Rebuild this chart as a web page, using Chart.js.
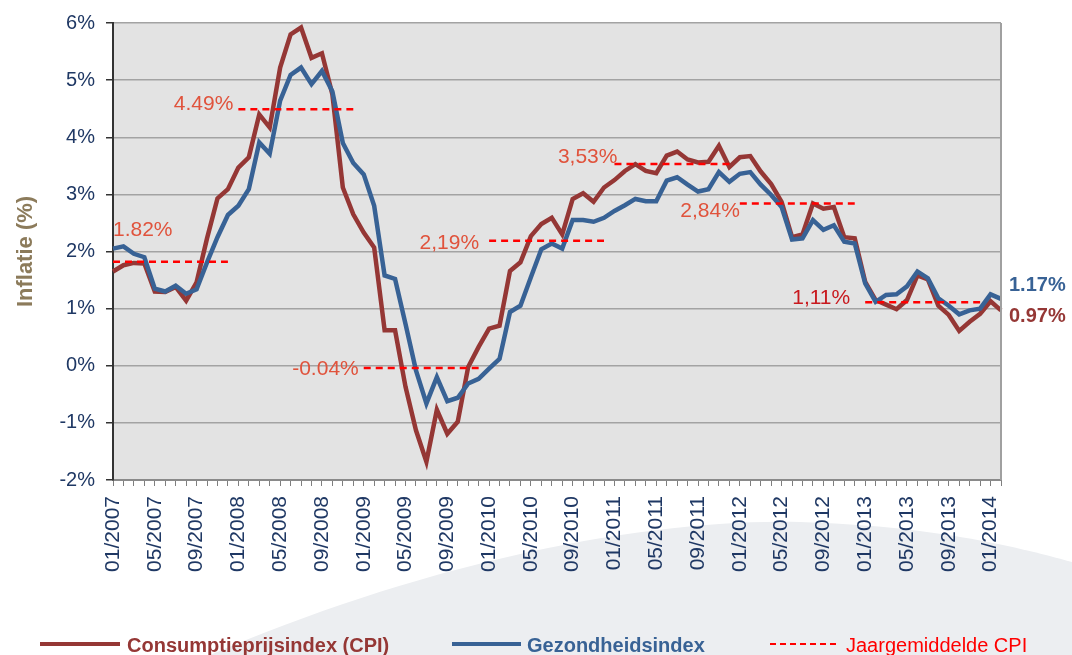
<!DOCTYPE html>
<html>
<head>
<meta charset="utf-8">
<script src="https://cdn.jsdelivr.net/npm/chart.js@4/dist/chart.umd.min.js"></script>
<style>
  html, body { margin: 0; padding: 0; background: #ffffff; }
  #wrap { width: 1072px; height: 655px; }
</style>
</head>
<body>
<div id="wrap"><canvas id="c" width="1072" height="655"></canvas></div>
<script>
// ---------------- DATA ----------------
const months = [
  '01/2007','02/2007','03/2007','04/2007','05/2007','06/2007','07/2007','08/2007','09/2007','10/2007','11/2007','12/2007',
  '01/2008','02/2008','03/2008','04/2008','05/2008','06/2008','07/2008','08/2008','09/2008','10/2008','11/2008','12/2008',
  '01/2009','02/2009','03/2009','04/2009','05/2009','06/2009','07/2009','08/2009','09/2009','10/2009','11/2009','12/2009',
  '01/2010','02/2010','03/2010','04/2010','05/2010','06/2010','07/2010','08/2010','09/2010','10/2010','11/2010','12/2010',
  '01/2011','02/2011','03/2011','04/2011','05/2011','06/2011','07/2011','08/2011','09/2011','10/2011','11/2011','12/2011',
  '01/2012','02/2012','03/2012','04/2012','05/2012','06/2012','07/2012','08/2012','09/2012','10/2012','11/2012','12/2012',
  '01/2013','02/2013','03/2013','04/2013','05/2013','06/2013','07/2013','08/2013','09/2013','10/2013','11/2013','12/2013',
  '01/2014','02/2014'
];

const cpi = [
  1.65, 1.76, 1.80, 1.79, 1.30, 1.29, 1.38, 1.14, 1.46, 2.23, 2.93, 3.09,
  3.47, 3.65, 4.40, 4.17, 5.22, 5.80, 5.92, 5.39, 5.47, 4.75, 3.12, 2.65,
  2.33, 2.07, 0.62, 0.62, -0.37, -1.13, -1.68, -0.77, -1.19, -0.98, -0.02, 0.33,
  0.65, 0.70, 1.66, 1.81, 2.27, 2.48, 2.59, 2.30, 2.92, 3.02, 2.87, 3.12,
  3.25, 3.41, 3.53, 3.41, 3.37, 3.68, 3.75, 3.61, 3.56, 3.57, 3.85, 3.48,
  3.65, 3.67, 3.40, 3.18, 2.87, 2.25, 2.30, 2.84, 2.75, 2.78, 2.25, 2.23,
  1.47, 1.15, 1.07, 0.99, 1.15, 1.58, 1.51, 1.05, 0.89, 0.61, 0.77, 0.91,
  1.13, 0.97
];

const health = [
  2.05, 2.09, 1.96, 1.90, 1.35, 1.30, 1.40, 1.26, 1.34, 1.81, 2.25, 2.64,
  2.80, 3.09, 3.91, 3.71, 4.64, 5.09, 5.22, 4.93, 5.16, 4.80, 3.90, 3.55,
  3.35, 2.80, 1.58, 1.52, 0.73, -0.08, -0.66, -0.20, -0.62, -0.56, -0.31, -0.23,
  -0.05, 0.12, 0.94, 1.05, 1.55, 2.04, 2.14, 2.05, 2.55, 2.55, 2.52, 2.59,
  2.71, 2.81, 2.92, 2.88, 2.88, 3.24, 3.30, 3.17, 3.05, 3.09, 3.39, 3.22,
  3.36, 3.39, 3.17, 2.99, 2.78, 2.21, 2.23, 2.55, 2.38, 2.46, 2.17, 2.14,
  1.44, 1.12, 1.24, 1.25, 1.39, 1.65, 1.53, 1.18, 1.05, 0.90, 0.97, 1.00,
  1.25, 1.17
];

const yearAvg = [1.82, 4.49, -0.04, 2.19, 3.53, 2.84, 1.11];
const yearAvgLabels = ['1.82%', '4.49%', '-0.04%', '2,19%', '3,53%', '2,84%', '1,11%'];
const endLabels = ['0.97%', '1.17%'];
const seriesNames = ['Consumptieprijsindex (CPI)', 'Gezondheidsindex', 'Jaargemiddelde CPI'];
const yTicks = [-2, -1, 0, 1, 2, 3, 4, 5, 6];

// ---------------- STYLE ----------------
const FONT = "'Liberation Sans', Arial, sans-serif";
const RED = '#953735';
const BLUE = '#386295';
const DASH = '#ff0000';
const NAVY = '#1f3864';

// year average datasets (one per year, built from yearAvg)
const avgSets = yearAvg.map((v, y) => ({
  label: 'avg' + y,
  data: months.map((m, i) => (Math.floor(i / 12) === y && i < 84) ? v : null),
  borderColor: DASH,
  borderWidth: 2.5,
  borderDash: [7, 5],
  pointRadius: 0,
  spanGaps: false,
  order: 0
}));

const decor = {
  id: 'decor',
  beforeDraw(chart) {
    const { ctx, chartArea: a } = chart;
    ctx.save();
    ctx.fillStyle = '#ffffff';
    ctx.fillRect(0, 0, chart.width, chart.height);
    ctx.fillStyle = '#eceef1';
    ctx.beginPath();
    ctx.moveTo(210, 655);
    ctx.bezierCurveTo(420, 565, 640, 518, 800, 522);
    ctx.bezierCurveTo(930, 526, 1010, 545, 1072, 562);
    ctx.lineTo(1072, 655);
    ctx.closePath();
    ctx.fill();
    ctx.fillStyle = '#e3e3e3';
    ctx.fillRect(a.left, a.top, a.right - a.left, a.bottom - a.top);
    ctx.restore();
  },
  afterDraw(chart) {
    const { ctx, chartArea: a } = chart;
    const xs = chart.scales.x, ys = chart.scales.y;
    ctx.save();
    // right border
    ctx.strokeStyle = '#a0a0a0';
    ctx.lineWidth = 2;
    ctx.beginPath();
    ctx.moveTo(a.right, a.top);
    ctx.lineTo(a.right, a.bottom);
    ctx.stroke();

    // year-average labels
    const place = [
      { idx: 0,  align: 'left',  dx: 0,   dy: -32, color: '#e0533c' },
      { idx: 12, align: 'right', dx: -5,  dy: -5,  color: '#e0533c' },
      { idx: 24, align: 'right', dx: -5,  dy: 1,   color: '#e0533c' },
      { idx: 36, align: 'right', dx: -10, dy: 3,   color: '#e0533c' },
      { idx: 48, align: 'right', dx: 3,   dy: -7,  color: '#e0533c' },
      { idx: 60, align: 'right', dx: 0,   dy: 8,   color: '#e0533c' },
      { idx: 72, align: 'right', dx: -15, dy: -4,  color: '#c8191e' }
    ];
    ctx.font = '21px ' + FONT;
    ctx.textBaseline = 'middle';
    yearAvg.forEach((v, k) => {
      const p = place[k];
      ctx.fillStyle = p.color;
      ctx.textAlign = p.align;
      ctx.fillText(yearAvgLabels[k], xs.getPixelForValue(p.idx) + p.dx, ys.getPixelForValue(v) + p.dy);
    });

    // end labels
    const last = months.length - 1;
    ctx.font = 'bold 20px ' + FONT;
    ctx.textAlign = 'left';
    ctx.fillStyle = BLUE;
    ctx.fillText(endLabels[1], a.right + 8, ys.getPixelForValue(health[last]) - 13);
    ctx.fillStyle = RED;
    ctx.fillText(endLabels[0], a.right + 8, ys.getPixelForValue(cpi[last]) + 6);

    // legend
    const ly = 644, by = 652;
    ctx.lineWidth = 4;
    ctx.strokeStyle = RED;
    ctx.beginPath(); ctx.moveTo(40, ly); ctx.lineTo(120, ly); ctx.stroke();
    ctx.strokeStyle = BLUE;
    ctx.beginPath(); ctx.moveTo(452, ly); ctx.lineTo(521, ly); ctx.stroke();
    ctx.lineWidth = 2;
    ctx.strokeStyle = DASH;
    ctx.setLineDash([6, 4]);
    ctx.beginPath(); ctx.moveTo(770, ly); ctx.lineTo(838, ly); ctx.stroke();
    ctx.setLineDash([]);
    ctx.textBaseline = 'alphabetic';
    ctx.font = 'bold 20px ' + FONT;
    ctx.fillStyle = RED;
    ctx.fillText(seriesNames[0], 127, by);
    ctx.fillStyle = BLUE;
    ctx.fillText(seriesNames[1], 527, by);
    ctx.font = '20px ' + FONT;
    ctx.fillStyle = DASH;
    ctx.fillText(seriesNames[2], 846, by);
    ctx.restore();
  }
};

new Chart(document.getElementById('c'), {
  type: 'line',
  data: {
    labels: months,
    datasets: [
      ...avgSets,
      { label: seriesNames[1], data: health, borderColor: BLUE, borderWidth: 4.5, pointRadius: 0, tension: 0, order: 1 },
      { label: seriesNames[0], data: cpi, borderColor: RED, borderWidth: 4.5, pointRadius: 0, tension: 0, order: 2 }
    ]
  },
  options: {
    responsive: false,
    animation: false,
    devicePixelRatio: 1,
    layout: { padding: { left: 0, right: 71, top: 22, bottom: 75 } },
    plugins: { legend: { display: false }, tooltip: { enabled: false } },
    scales: {
      x: {
        type: 'category',
        offset: false,
        grid: { display: true, drawOnChartArea: false, drawTicks: true, tickLength: 6, color: '#7f7f7f', lineWidth: 1 },
        border: { display: true, color: '#8a8a8a', width: 2 },
        ticks: {
          autoSkip: false, maxRotation: 90, minRotation: 90, padding: 10,
          color: NAVY, font: { family: FONT, size: 21 },
          callback: (v, i) => (i % 4 === 0 ? months[i] : '')
        },
        afterFit: s => { s.height = 100; }
      },
      y: {
        min: yTicks[0], max: yTicks[yTicks.length - 1],
        afterBuildTicks: s => { s.ticks = yTicks.map(v => ({ value: v })); },
        ticks: { callback: v => v + '%', color: NAVY, font: { family: FONT, size: 20 }, padding: 11 },
        grid: { color: '#a3a3a3', lineWidth: 1.5, tickLength: 7, tickColor: '#333333' },
        border: { display: true, color: '#333333', width: 2 },
        title: { display: true, text: 'Inflatie (%)', color: '#8c7b5b', font: { family: FONT, size: 22, weight: 'bold' }, padding: { top: 13, bottom: 0 } },
        afterFit: s => { s.width = 113; }
      }
    }
  },
  plugins: [decor]
});
</script>
</body>
</html>
